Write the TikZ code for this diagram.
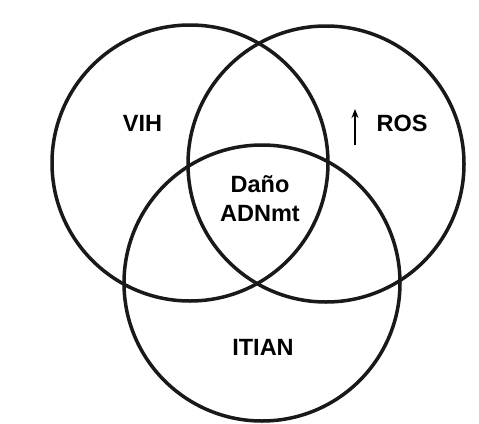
\documentclass[tikz,border=0pt]{standalone}
\usepackage{fontspec}
\setmainfont{Liberation Sans}
\usetikzlibrary{arrows.meta}
\begin{document}
\begin{tikzpicture}[x=1pt,y=-1pt,
  ring/.style={draw=black!90, line width=3.5pt},
  lbl/.style={font=\fontsize{23.5}{29}\selectfont\bfseries, text=black, align=center, inner sep=0pt}]
  \useasboundingbox (0,0) rectangle (479,423);
  % three overlapping sets
  \draw[ring] (190,163) circle[radius=138];
  \draw[ring] (326,164) circle[radius=138];
  \draw[ring] (262,283) circle[radius=138];
  % set labels
  \node[lbl] (vih) at (142.5,123) {VIH};
  \node[lbl] (ros) at (402,123) {ROS};
  \node[lbl] (itian) at (263,347) {ITIAN};
  \node[lbl] (core) at (260,199) {Daño\\ADNmt};
  % increase marker beside ROS
  \coordinate (up0) at (355,145);
  \coordinate (up1) at (355,109);
  \draw[line width=1.8pt, -{Stealth[length=9pt,width=7pt]}] (up0) -- (up1);
\end{tikzpicture}
\end{document}
